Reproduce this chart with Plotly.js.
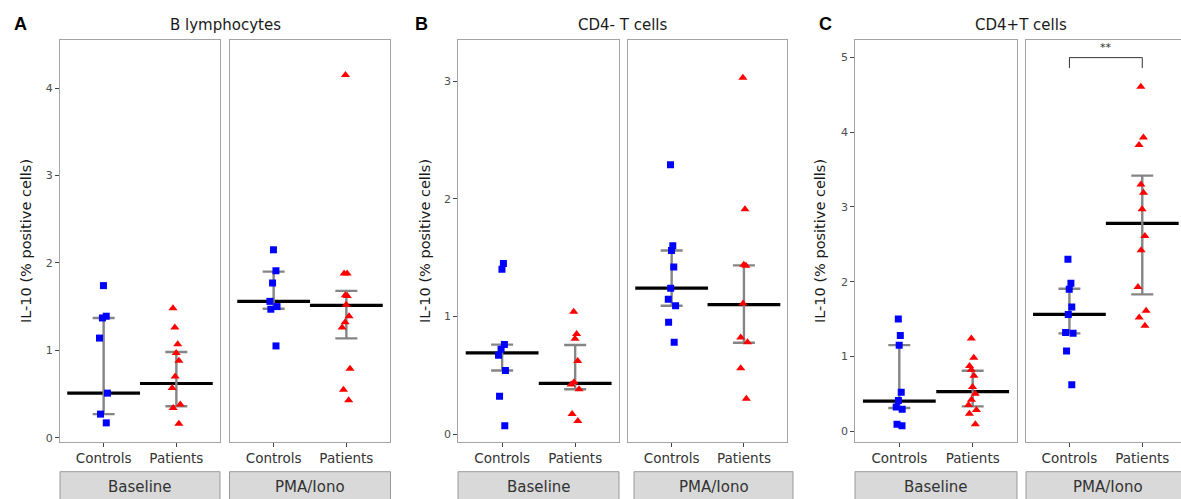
<!DOCTYPE html>
<html><head><meta charset="utf-8">
<script src="https://cdn.plot.ly/plotly-3.0.1.min.js"></script>
<style>html,body{margin:0;padding:0;overflow:hidden;background:#fff}#chart{width:1190px;height:499px}</style>
</head><body><div id="chart"></div>
<script>
// ---------- data ----------
const groups = ['Controls', 'Patients'];
const conditions = ['Baseline', 'PMA/Iono'];
const panelTitles = ['B lymphocytes', 'CD4- T cells', 'CD4+T cells'];
const panelLetters = ['A', 'B', 'C'];
const yTitle = 'IL-10 (% positive cells)';

// Panel A: B lymphocytes
const bCtrlBase = [1.74, 1.39, 1.37, 1.14, 0.51, 0.27, 0.17];
const bPatBase  = [1.48, 1.26, 1.07, 0.97, 0.88, 0.70, 0.57, 0.38, 0.34, 0.16];
const bCtrlPma  = [2.15, 1.91, 1.77, 1.56, 1.50, 1.47, 1.05];
const bPatPma   = [4.15, 1.88, 1.88, 1.63, 1.62, 1.52, 1.39, 1.32, 1.26, 0.79, 0.55, 0.43];
const bMedBase = [0.51, 0.62], bQ1Base = [0.27, 0.36], bQ3Base = [1.37, 0.98];
const bMedPma  = [1.56, 1.515], bQ1Pma = [1.476, 1.137], bQ3Pma = [1.90, 1.68];

// Panel B: CD4- T cells
const nCtrlBase = [1.45, 1.40, 0.76, 0.72, 0.67, 0.54, 0.32, 0.07];
const nPatBase  = [1.04, 0.85, 0.81, 0.62, 0.44, 0.42, 0.38, 0.17, 0.11];
const nCtrlPma  = [2.29, 1.60, 1.56, 1.42, 1.24, 1.145, 1.09, 0.95, 0.78];
const nPatPma   = [3.03, 1.91, 1.44, 1.43, 1.11, 0.82, 0.78, 0.56, 0.30];
const nMedBase = [0.69, 0.43], nQ1Base = [0.54, 0.38], nQ3Base = [0.76, 0.757];
const nMedPma  = [1.24, 1.10], nQ1Pma = [1.09, 0.776], nQ3Pma = [1.56, 1.434];

// Panel C: CD4+ T cells
const pCtrlBase = [1.50, 1.28, 1.15, 0.52, 0.41, 0.32, 0.29, 0.09, 0.07];
const pPatBase  = [1.24, 0.98, 0.87, 0.82, 0.74, 0.59, 0.50, 0.42, 0.35, 0.28, 0.23, 0.09];
const pCtrlPma  = [2.30, 1.98, 1.90, 1.66, 1.56, 1.32, 1.31, 1.07, 0.62];
const pPatPma   = [4.61, 3.93, 3.83, 3.30, 3.19, 2.97, 2.61, 2.42, 1.93, 1.61, 1.52, 1.41];
const pMedBase = [0.40, 0.527], pQ1Base = [0.308, 0.33], pQ3Base = [1.15, 0.808];
const pMedPma  = [1.563, 2.78], pQ1Pma = [1.308, 1.83], pQ3Pma = [1.906, 3.42];

// significance (panel C, PMA/Iono)
const sigLabel = '**';
const sigLevel = 5.0;

const yTicks = [[0,1,2,3,4],[0,1,2,3],[0,1,2,3,4,5]];

// ---------- layout geometry ----------
const W = 1190, H = 499;
const facetPx = [[60,220],[230,390],[458.3,619],[628.3,787.3],[855.3,1016.7],[1025.7,1186]];
const stripPx = [[60,220],[229.5,390.5],[458,619],[634,793],[855,1017],[1026,1190]];
const plotTop = 40, plotBottom = 442;
const yRanges = [[-0.049,4.55],[-0.068,3.35],[-0.147,5.236]];
const yTitleX = [26, 425, 820];
const letterX = [20, 421, 825];
const xRange = [-0.6, 1.6];

const panels = [
  {ctrl:[bCtrlBase,bCtrlPma], pat:[bPatBase,bPatPma], med:[bMedBase,bMedPma], q1:[bQ1Base,bQ1Pma], q3:[bQ3Base,bQ3Pma]},
  {ctrl:[nCtrlBase,nCtrlPma], pat:[nPatBase,nPatPma], med:[nMedBase,nMedPma], q1:[nQ1Base,nQ1Pma], q3:[nQ3Base,nQ3Pma]},
  {ctrl:[pCtrlBase,pCtrlPma], pat:[pPatBase,pPatPma], med:[pMedBase,pMedPma], q1:[pQ1Base,pQ1Pma], q3:[pQ3Base,pQ3Pma]}
];

const FONT = 'DejaVu Sans, Verdana, sans-serif';
const frameColor = '#a3a3a3';
const data = [];
const layout = {
  width: W, height: H, autosize: false,
  margin: {l:0, r:0, t:0, b:0, pad:0},
  paper_bgcolor: '#fff', plot_bgcolor: '#fff',
  showlegend: false,
  font: {family: FONT, color: '#333'},
  annotations: [], shapes: []
};
const px = v => v / W;
const py = v => 1 - v / H;

panels.forEach((P, p) => {
  for (let f = 0; f < 2; f++) {
    const idx = p * 2 + f;
    const n = idx + 1, m = idx + 7;
    const xn = 'x' + n, yn = 'y' + n, xm = 'x' + m, ym = 'y' + m;
    const dom = [px(facetPx[idx][0]), px(facetPx[idx][1])];
    layout['xaxis' + n] = {
      domain: dom, anchor: yn, type: 'category', categoryorder: 'array', categoryarray: groups,
      range: xRange, showline: true, mirror: true, linecolor: frameColor, linewidth: 1.1,
      ticks: 'outside', ticklen: 4, tickwidth: 1, tickcolor: '#444',
      tickfont: {family: FONT, size: 13.5, color: '#333'},
      showgrid: false, zeroline: false, fixedrange: true
    };
    layout['yaxis' + n] = {
      domain: [py(plotBottom), py(plotTop)], anchor: xn, range: yRanges[p],
      tickvals: yTicks[p], ticktext: yTicks[p].map(String),
      showline: true, mirror: true, linecolor: frameColor, linewidth: 1.1,
      ticks: f === 0 ? 'outside' : '', ticklen: 4, tickwidth: 1, tickcolor: '#444',
      showticklabels: f === 0, tickfont: {family: FONT, size: 11, color: '#4d4d4d'},
      showgrid: false, zeroline: false, fixedrange: true
    };
    layout['xaxis' + m] = {
      overlaying: xn, anchor: ym, type: 'category', categoryorder: 'array', categoryarray: groups,
      range: xRange, visible: false, showgrid: false, zeroline: false, fixedrange: true
    };
    layout['yaxis' + m] = {
      overlaying: yn, anchor: xm, range: yRanges[p], visible: false,
      showgrid: false, zeroline: false, fixedrange: true
    };

    const med = P.med[f], q1 = P.q1[f], q3 = P.q3[f];
    // median bars
    data.push({
      type: 'scatter', mode: 'markers', x: groups, y: med, xaxis: xn, yaxis: yn,
      marker: {symbol: 'line-ew', size: 52, color: '#000', line: {width: 3.2, color: '#000'}},
      hoverinfo: 'skip'
    });
    // IQR error bars
    data.push({
      type: 'scatter', mode: 'markers', x: groups, y: med, xaxis: xn, yaxis: yn,
      marker: {size: 1, opacity: 0},
      error_y: {type: 'data', symmetric: false,
        array: q3.map((v, i) => v - med[i]), arrayminus: q1.map((v, i) => med[i] - v),
        color: '#858585', thickness: 2.4, width: 11},
      hoverinfo: 'skip'
    });
    // points (on overlay so they sit on top)
    const boxBase = {
      type: 'box', boxpoints: 'all', jitter: 0.28, pointpos: 0, width: 0.5,
      fillcolor: 'rgba(0,0,0,0)', line: {width: 0, color: 'rgba(0,0,0,0)'}, whiskerwidth: 0,
      xaxis: xm, yaxis: ym, hoverinfo: 'y'
    };
    data.push(Object.assign({}, boxBase, {
      x: P.ctrl[f].map(() => groups[0]), y: P.ctrl[f],
      marker: {symbol: 'square', color: '#0000ff', size: 7, line: {width: 0}}
    }));
    data.push(Object.assign({}, boxBase, {
      x: P.pat[f].map(() => groups[1]), y: P.pat[f],
      marker: {symbol: 'triangle-up', color: '#ff0000', size: 8, line: {width: 0}}
    }));

    // strip
    layout.shapes.push({
      type: 'rect', xref: 'paper', yref: 'paper',
      x0: px(stripPx[idx][0]), x1: px(stripPx[idx][1]), y0: py(471.7), y1: py(520),
      fillcolor: '#d9d9d9', line: {color: '#999', width: 1}
    });
    layout.annotations.push({
      xref: 'paper', yref: 'paper', x: px((stripPx[idx][0] + stripPx[idx][1]) / 2), y: py(487),
      text: conditions[f], showarrow: false, xanchor: 'center', yanchor: 'middle',
      font: {family: FONT, size: 15, color: '#333'}
    });
  }
  const cx = (facetPx[p * 2][0] + facetPx[p * 2 + 1][1]) / 2;
  layout.annotations.push({
    xref: 'paper', yref: 'paper', x: px(cx), y: py(25), text: panelTitles[p],
    showarrow: false, xanchor: 'center', yanchor: 'middle',
    font: {family: FONT, size: 15, color: '#1a1a1a'}
  });
  layout.annotations.push({
    xref: 'paper', yref: 'paper', x: px(letterX[p]), y: py(24), text: '<b>' + panelLetters[p] + '</b>',
    showarrow: false, xanchor: 'center', yanchor: 'middle',
    font: {family: 'Liberation Sans, Arial, sans-serif', size: 18, color: '#000'}
  });
  layout.annotations.push({
    xref: 'paper', yref: 'paper', x: px(yTitleX[p]), y: py(241), text: yTitle, textangle: -90,
    showarrow: false, xanchor: 'center', yanchor: 'middle',
    font: {family: FONT, size: 14.5, color: '#1a1a1a'}
  });
});

// significance bracket on panel C, PMA/Iono
data.push({
  type: 'scatter', mode: 'lines', xaxis: 'x12', yaxis: 'y12',
  x: [groups[0], groups[0], groups[1], groups[1]],
  y: [sigLevel - 0.14, sigLevel, sigLevel, sigLevel - 0.14],
  line: {color: '#333', width: 1}, hoverinfo: 'skip'
});
layout.annotations.push({
  xref: 'x12', yref: 'y12', x: 0.5, y: sigLevel, text: sigLabel, showarrow: false,
  xanchor: 'center', yanchor: 'bottom', yshift: 2,
  font: {family: FONT, size: 11, color: '#333'}
});

Plotly.newPlot('chart', data, layout, {staticPlot: true, displayModeBar: false});
</script>
</body></html>
